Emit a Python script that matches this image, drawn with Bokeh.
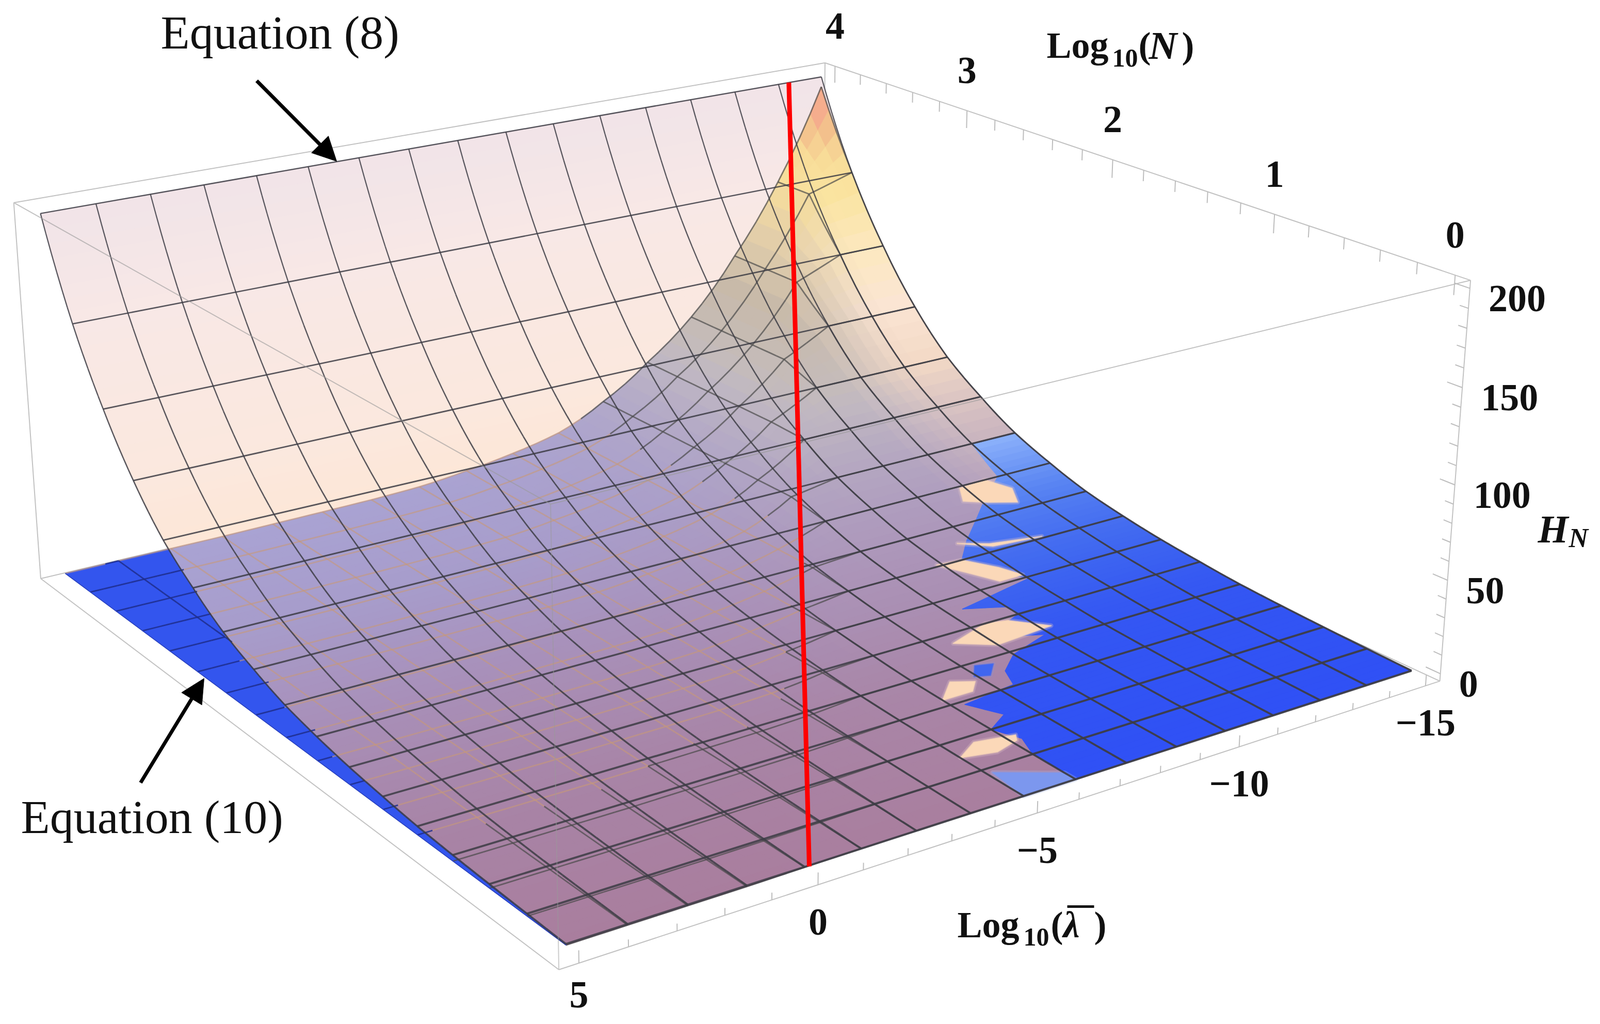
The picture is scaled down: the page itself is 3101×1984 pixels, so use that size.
import numpy as np
from bokeh.plotting import figure
from bokeh.models import Arrow, NormalHead, ColumnDataSource
from bokeh.embed import file_html
from bokeh.resources import INLINE

# ---- data -----------------------------------------------------------------
lam_mesh = [5, 3.75, 2.5, 1.25, 0, -1.25, -2.5, -3.75, -5, -6.25, -7.5, -8.75, -10, -11.25, -12.5, -13.75, -15]
N_mesh = [0, .25, .5, .75, 1, 1.25, 1.5, 1.75, 2, 2.25, 2.5, 2.75, 3, 3.25, 3.5, 3.75, 4]
# Equation (8): height against Log10(N)
H_eq8 = [0.5, 1.2, 2, 3, 4.3, 6.5, 9, 12.5, 17, 24, 32.5, 45, 60, 82, 111, 148, 199]
# Equation (10): rows are N_mesh, columns are lam_mesh
H_eq10 = [
 [0, 0, 0, 0, .3, .5, .5, .5, .5, .5, .5, .5, .5, .5, .5, .5, .5],
 [0, 0, 0, 0, .3, .6, 1, 1.2, 1.2, 1.2, 1.2, 1.2, 1.2, 1.2, 1.2, 1.2, 1.2],
 [0, 0, 0, 0, .3, .6, 1, 2, 2, 2, 2, 2, 2, 2, 2, 2, 2],
 [0, 0, 0, 0, .3, .6, 1, 2, 3, 3, 3, 3, 3, 3, 3, 3, 3],
 [0, 0, 0, 0, .3, .6, 1, 2, 4.3, 4.3, 4.3, 4.3, 4.3, 4.3, 4.3, 4.3, 4.3],
 [0, 0, 0, 0, .3, .6, 1, 2, 5, 6.5, 6.5, 6.5, 6.5, 6.5, 6.5, 6.5, 6.5],
 [0, 0, 0, 0, .3, .6, 1, 2, 5, 9, 9, 9, 9, 9, 9, 9, 9],
 [0, 0, 0, 0, .3, .6, 1, 2, 5, 9, 12.5, 12.5, 12.5, 12.5, 12.5, 12.5, 12.5],
 [0, 0, 0, 0, .3, .6, 1, 2, 5, 9, 15, 17, 17, 17, 17, 17, 17],
 [0, 0, 0, 0, .3, .6, 1, 2, 5, 9, 15, 24, 24, 24, 24, 24, 24],
 [0, 0, 0, 0, .3, .6, 1, 2, 5, 9, 15, 28, 32.5, 32.5, 32.5, 32.5, 32.5],
 [0, 0, 0, 0, .3, .6, 1, 2, 5, 9, 15, 28, 45, 45, 45, 45, 45],
 [0, 0, 0, 0, .3, .6, 1, 2, 5, 9, 15, 28, 46, 60, 60, 60, 60],
 [0, 0, 0, 0, .3, .6, 1, 2, 5, 9, 15, 28, 46, 68, 82, 82, 82],
 [0, 0, 0, 0, .3, .6, 1, 2, 5, 9, 15, 28, 46, 68, 100, 111, 111],
 [0, 0, 0, 0, .3, .6, 1, 2, 5, 9, 15, 28, 46, 68, 100, 140, 148],
 [0, 0, 0, 0, .3, .6, 1, 2, 5, 9, 15, 28, 46, 68, 100, 140, 193],
]
# visible edge of the Equation (10) sheet, in mesh-cell units
edge_k = [0, 1, 1.5, 2, 2.3, 2.9, 3.05, 3.5, 3.9, 4.2, 4.6, 5, 5.3, 5.6, 5.95, 6.5, 7, 7.5, 8, 8.5, 9, 10]
edge_j = [9, 9, 9.2, 9, 9.5, 9.2, 10.3, 10.5, 11, 11.9, 11, 12, 12, 11.3, 13, 12.6, 12.4, 12.9, 13.5, 14.1, 14.8, 15]
# blotches where the two sheets fight, in mesh-cell units (j, k)
blotch_peach = [
 [(13.9, 8.95), (14.5, 9.0), (14.8, 8.6), (14.6, 8.2), (14.1, 8.4), (13.7, 8.6)],
 [(12.7, 7.5), (13.2, 7.15), (14.2, 7.05), (13.2, 7.25)],
 [(11.9, 7.05), (12.4, 7.0), (12.8, 6.5), (13.0, 6.1), (12.5, 6.1), (12.2, 6.6)],
 [(10.4, 4.7), (11.3, 5.0), (11.7, 4.9), (12.2, 4.4), (11.6, 4.35), (11, 4.3)],
 [(9.0, 3.2), (9.5, 3.65), (9.85, 3.45), (9.6, 3.2)],
 [(8.0, 1.5), (8.5, 1.8), (9.2, 1.65), (9.1, 1.5), (8.6, 1.35)],
]
blotch_pale = [[(8.1, 0.85), (9, 0.25), (9, 0.0), (8.0, 0.0)]]
blotch_blue = [[(10.2, 3.9), (10.5, 3.8), (10.2, 3.5), (9.95, 3.6)]]
# red line
red_lam, red_N, red_H = [-0.1, -14.05], [0, 4], [0, 199]
# axes
lam_ticks = [5, 0, -5, -10, -15]
lam_labels = ["5", "0", "\u22125", "\u221210", "\u221215"]
lam_label_drop = [62, 72, 72, 72, 72]
N_ticks = [4, 3, 2, 1, 0]
N_labels = ["4", "3", "2", "1", "0"]
H_ticks = [200, 150, 100, 50, 0]
H_labels = ["200", "150", "100", "50", "0"]
lam_lo, lam_hi = -15.4, 5.4
N_lo, N_hi = -0.08, 4.08
H_lo, H_hi = -4, 204

# ---- camera fitted to the box corners --------------------------------------
box_world = [(lam_hi, N_lo, H_lo), (lam_lo, N_lo, H_lo), (lam_hi, N_hi, H_lo), (lam_hi, N_lo, H_hi),
             (lam_hi, N_hi, H_hi), (lam_lo, N_lo, H_hi), (lam_lo, N_hi, H_hi)]
box_seen = [(1082, 1879), (2790, 1320), (79, 1119), (1068, 975), (25, 394), (2849, 542), (1599, 121)]
def norm(l, n, h):
    return (lam_hi - np.asarray(l, float)) / (lam_hi - lam_lo), (np.asarray(n, float) - N_lo) / (N_hi - N_lo), (np.asarray(h, float) - H_lo) / (H_hi - H_lo)
rows, rhs = [], []
for w, s in zip(box_world, box_seen):
    a, b, c = norm(*w)
    rows.append([a, b, c, 1, 0, 0, 0, 0, -s[0]*a, -s[0]*b, -s[0]*c]); rhs.append(s[0])
    rows.append([0, 0, 0, 0, a, b, c, 1, -s[1]*a, -s[1]*b, -s[1]*c]); rhs.append(s[1])
cam = np.linalg.lstsq(np.array(rows, float), np.array(rhs, float), rcond=None)[0]
def project(l, n, h):
    a, b, c = norm(l, n, h)
    d = cam[8]*a + cam[9]*b + cam[10]*c + 1
    return (cam[0]*a + cam[1]*b + cam[2]*c + cam[3]) / d, (cam[4]*a + cam[5]*b + cam[6]*c + cam[7]) / d

# ---- surface look-ups ------------------------------------------------------
T8 = np.log1p(np.array(H_eq8))
T10 = np.log1p(np.array(H_eq10))
def h8(k):
    return np.expm1(np.interp(k, np.arange(17), T8))
def h10(j, k):
    j0, k0 = min(int(j), 15), min(int(k), 15)
    fj, fk = j - j0, k - k0
    return float(np.expm1((1-fj)*(1-fk)*T10[k0, j0] + fj*(1-fk)*T10[k0, j0+1] + (1-fj)*fk*T10[k0+1, j0] + fj*fk*T10[k0+1, j0+1]))
def L(j): return 5 - 1.25*np.asarray(j, float)
def N(k): return 0.25*np.asarray(k, float)
def p8(j, k):
    return project(L(j), N(k), h8(k))
def p10(j, k):
    return project(L(j), N(k), h10(j, k))

def ramp(v, xs, cols):
    rgb = [[int(c[i:i+2], 16) for i in (1, 3, 5)] for c in cols]
    return np.array([np.interp(v, xs, [r[i] for r in rgb]) for i in range(3)])
def hexc(a):
    return "#%02x%02x%02x" % tuple(int(round(x)) for x in a)

def pink_col(h):
    return hexc(ramp(h, [0, 45, 82, 148, 199], ["#fee6d0", "#fee6d3", "#fbe8de", "#f8e8e6", "#f1e4e8"]))
def blue_col(h):
    return hexc(ramp(h, [0, 5, 10, 20, 32], ["#2f50f5", "#3558f2", "#4068f0", "#5a85f2", "#8ab0fa"]))
def mauve_col(j, k):
    h = h10(j, k)
    base = ramp(k/16*4, [0, 1, 2, 3, 4], ["#a97e9e", "#a884a6", "#a88fb8", "#a79ccb", "#a9a3d3"])
    right = ramp(h, [0, 30, 60, 85, 110, 138, 155, 170, 185, 199], ["#c8afb8", "#e0c9bc", "#f3d9c6", "#fbe5d3", "#fce8c0", "#fae4a0", "#f8dc98", "#f3c08c", "#f6a48e", "#f88f90"])
    left = ramp(h, [0, 50, 100, 150, 199], ["#b0a0c0", "#c4bcc0", "#c9b9a0", "#d4b080", "#e8a890"])
    t = np.clip((j/16 - 0.85)/0.10, 0, 1)
    m = min(1.0, h/60.0)**0.9
    return hexc(base*(1-m) + m*(left*(1-t) + right*t))

# ---- page ------------------------------------------------------------------
p = figure(width=3085, height=1968, x_range=(0, 3085), y_range=(1968, 0), output_backend="svg",
           toolbar_location=None, min_border=0)
p.axis.visible = False
p.grid.visible = False
p.outline_line_color = None

def patches(polys, cols, alpha=1.0, stroke=1.2):
    src = ColumnDataSource(dict(xs=[list(map(float, a)) for a, _ in polys], ys=[list(map(float, b)) for _, b in polys], c=cols))
    p.patches("xs", "ys", source=src, fill_color="c", line_color="c", fill_alpha=alpha, line_alpha=alpha, line_width=stroke)

def seg(a, b, color="#c2c2c2", width=2, alpha=1.0):
    xa, ya = project(*a); xb, yb = project(*b)
    p.line([float(xa), float(xb)], [float(ya), float(yb)], line_color=color, line_width=width, line_alpha=alpha)

Ew, Gw, Fw, Dw, Aw, Cw, Bw = box_world
Hw = (lam_lo, N_hi, H_lo)
# hidden back edges
seg(Fw, Hw); seg(Gw, Hw); seg(Bw, Hw)

# Equation (8) sheet
polys, cols = [], []
for k0 in range(16):
    for s in range(8):
        a, b = k0 + s/8, k0 + (s+1)/8
        x1, y1 = p8(0, a); x2, y2 = p8(16, a); x3, y3 = p8(16, b); x4, y4 = p8(0, b)
        polys.append(([x1, x2, x3, x4], [y1, y2, y3, y4]))
        cols.append(pink_col(h8((a+b)/2)))
patches(polys, cols)

# Equation (10) sheet seen through (8), painted back to front
polys, cols = [], []
SUB = 4
for kk in range(16*SUB-1, -1, -1):
    for jj in range(16*SUB):
        j0, j1, k0, k1 = jj/SUB, (jj+1)/SUB, kk/SUB, (kk+1)/SUB
        c = [p10(j0, k0), p10(j1, k0), p10(j1, k1), p10(j0, k1)]
        polys.append(([q[0] for q in c], [q[1] for q in c]))
        cols.append(mauve_col((j0+j1)/2, (k0+k1)/2))
patches(polys, cols)

# left wedge of (10) that is outside the silhouette of (8)
def cross(a, b, c, d):
    den = (b[0]-a[0])*(d[1]-c[1]) - (b[1]-a[1])*(d[0]-c[0])
    if abs(den) < 1e-9:
        return None
    t = ((c[0]-a[0])*(d[1]-c[1]) - (c[1]-a[1])*(d[0]-c[0])) / den
    u = ((c[0]-a[0])*(b[1]-a[1]) - (c[1]-a[1])*(b[0]-a[0])) / den
    return (a[0]+t*(b[0]-a[0]), a[1]+t*(b[1]-a[1])) if 0 <= t <= 1 and 0 <= u <= 1 else None
corner = p10(0, 16); along = p10(2, 16)
edge = [p8(0, k/8) for k in range(0, 129)]
wedge = []
for a, b in zip(edge[:-1], edge[1:]):
    hit = cross(corner, along, a, b)
    wedge.append(a)
    if hit:
        wedge.append(hit)
        break
floor = [p10(0, k) for k in range(16, -1, -1)]
wedge = wedge + floor
wx = [float(q[0]) for q in wedge]; wy = [float(q[1]) for q in wedge]
patches([(wx, wy)], ["#3355ee"])
def inside(x, y):
    c = False
    n = len(wx)
    for i in range(n):
        a, b = i, (i+1) % n
        if (wy[a] > y) != (wy[b] > y) and x < wx[a] + (y-wy[a])*(wx[b]-wx[a])/(wy[b]-wy[a]):
            c = not c
    return c

# part of (10) seen directly, with a jagged edge
polys, cols = [], []
for i in range(len(edge_k)-1):
    n = max(1, int(np.ceil((edge_k[i+1]-edge_k[i])*6)))
    for s in range(n):
        ka = edge_k[i] + (edge_k[i+1]-edge_k[i])*s/n
        kb = edge_k[i] + (edge_k[i+1]-edge_k[i])*(s+1)/n
        ja = np.interp(ka, edge_k, edge_j); jb = np.interp(kb, edge_k, edge_j)
        q = [p8(ja, ka), p8(16, ka), p8(16, kb), p8(jb, kb)]
        polys.append(([a[0] for a in q], [a[1] for a in q]))
        cols.append(blue_col(h8((ka+kb)/2)))
patches(polys, cols)
for group, col, halo in ((blotch_pale, "#7c97ee", "#a9b8ee"), (blotch_peach, "#fbd8b8", "#e0c4c8"), (blotch_blue, "#3f66f0", "#8a92d8")):
    ps = []
    for poly in group:
        q = [p8(a, b) for a, b in poly]
        ps.append(([float(a[0]) for a in q], [float(a[1]) for a in q]))
    # soft rim first, so that the blotches fade into the sheet as they do in the reference
    src = ColumnDataSource(dict(xs=[h[0] for h in ps], ys=[h[1] for h in ps]))
    p.patches("xs", "ys", source=src, fill_color=halo, line_color=halo, fill_alpha=0.35, line_alpha=0.3, line_width=9, line_join="round")
    src2 = ColumnDataSource(dict(xs=[h[0] for h in ps], ys=[h[1] for h in ps]))
    p.patches("xs", "ys", source=src2, fill_color=col, line_color=col, fill_alpha=1.0, line_alpha=0.6, line_width=3, line_join="round")

# mesh of (10)
X, Y, C, A, W = [], [], [], [], []
def add10(pts):
    for (j0, k0), (j1, k1) in zip(pts[:-1], pts[1:]):
        xa, ya = p10(j0, k0); xb, yb = p10(j1, k1)
        jm, km = (j0+j1)/2, (k0+k1)/2
        hh = h10(jm, km); d = float(h8(km)) - hh
        if inside((xa+xb)/2, (ya+yb)/2):
            c, al = "#1e2e8c", 0.85
        elif d > 4 and hh < 20:
            c, al = "#c89a78", 0.6
        else:
            c, al = "#4a4a4a", 0.7
        X.append([float(xa), float(xb)]); Y.append([float(ya), float(yb)]); C.append(c); A.append(al); W.append(2.8)
for k in range(17):
    add10([(i/4, k) for i in range(65)])
for j in range(1, 17):
    add10([(j, i/4) for i in range(65)])
p.multi_line(X, Y, line_color=C, line_alpha=A, line_width=W)
fx, fy = zip(*[p10(0, k) for k in range(17)])
p.line([float(a) for a in fx], [float(a) for a in fy], line_color="#2b44c0", line_width=1.6)

# mesh of (8)
X, Y, W = [], [], []
for k in range(17):
    a, b = p8(0, k), p8(16, k)
    X.append([float(a[0]), float(b[0])]); Y.append([float(a[1]), float(b[1])]); W.append(4.2 - 1.7*k/16)
for j in range(17):
    for i in range(96):
        a, b = p8(j, i/6), p8(j, (i+1)/6)
        X.append([float(a[0]), float(b[0])]); Y.append([float(a[1]), float(b[1])]); W.append(3.8 - 1.6*i/96)
p.multi_line(X, Y, line_color="#3c3c44", line_alpha=0.85, line_width=W)

# box
seg(Aw, Dw, "#999999", 2, 0.6); seg(Dw, Ew, "#999999", 2, 0.5); seg(Cw, Dw, "#999999", 2, 0.6)
seg(Aw, Bw); seg(Bw, Cw); seg(Cw, Gw); seg(Aw, Fw); seg(Fw, Ew); seg(Ew, Gw)
for v in np.arange(-15, 5.5, 1.0):
    big = v % 5 == 0
    seg((v, N_lo, H_lo), (v, N_lo, H_lo + (6 if big else 3.5)), "#bdbdbd", 2)
for v in range(0, 21):
    seg((lam_lo, v/5, H_hi), (lam_lo, v/5, H_hi - (10 if v % 5 == 0 else 6)), "#bdbdbd", 2)
for v in range(0, 21):
    seg((lam_lo, N_lo, v*10), (lam_lo, N_lo + (0.08 if v % 5 == 0 else 0.045), v*10), "#bdbdbd", 2)

# red line
rx, ry = project(red_lam, red_N, red_H)
p.line([float(a) for a in rx], [float(a) for a in ry], line_color="#ff0000", line_width=9)

# tick labels
fs = "74px"; fam = "Liberation Serif"
def labels(xs, ys, texts, align="center", size=fs, style="bold", baseline="middle"):
    p.text([float(a) for a in xs], [float(a) for a in ys], text=texts, text_font=fam, text_font_size=size,
           text_font_style=style, text_align=align, text_baseline=baseline, text_color="#111111")
xs, ys = project(lam_ticks, [N_lo]*5, [H_lo]*5)
labels(xs, ys + np.array(lam_label_drop), lam_labels)
xs, ys = project([lam_lo]*5, N_ticks, [H_hi]*5)
labels(xs, ys - 78, N_labels)
xs, ys = project([lam_lo]*5, [N_lo]*5, H_ticks)
labels(xs + 36, ys + 20, H_labels, align="left")

# axis titles
labels([2028], [87], ["Log"], "left", "72px", "bold")
labels([2155], [112], ["10"], "left", "50px", "bold")
labels([2206], [87], ["("], "left", "72px", "bold")
labels([2226], [87], ["N"], "left", "76px", "bold italic")
labels([2290], [87], [")"], "left", "72px", "bold")
labels([1855], [1791], ["Log"], "left", "72px", "bold")
labels([1983], [1815], ["10"], "left", "50px", "bold")
labels([2036], [1791], ["("], "left", "72px", "bold")
labels([2060], [1791], ["\u03bb"], "left", "72px", "bold italic")
labels([2120], [1791], [")"], "left", "72px", "bold")
p.line([2068, 2120], [1756, 1756], line_color="#111111", line_width=5)
labels([2980], [1024], ["H"], "left", "76px", "bold italic")
labels([3040], [1042], ["N"], "left", "52px", "bold italic")

# annotations
labels([311], [62], ["Equation (8)"], "left", "92px", "normal")
labels([40], [1582], ["Equation (10)"], "left", "92px", "normal")
for (x0, y0, x1, y1) in [(497, 156, 652, 312), (272, 1516, 395, 1314)]:
    p.add_layout(Arrow(end=NormalHead(size=46, fill_color="black", line_color="black"),
                       x_start=x0, y_start=y0, x_end=x1, y_end=y1, line_color="black", line_width=7))

open("out.html", "w").write(file_html(p, INLINE))
